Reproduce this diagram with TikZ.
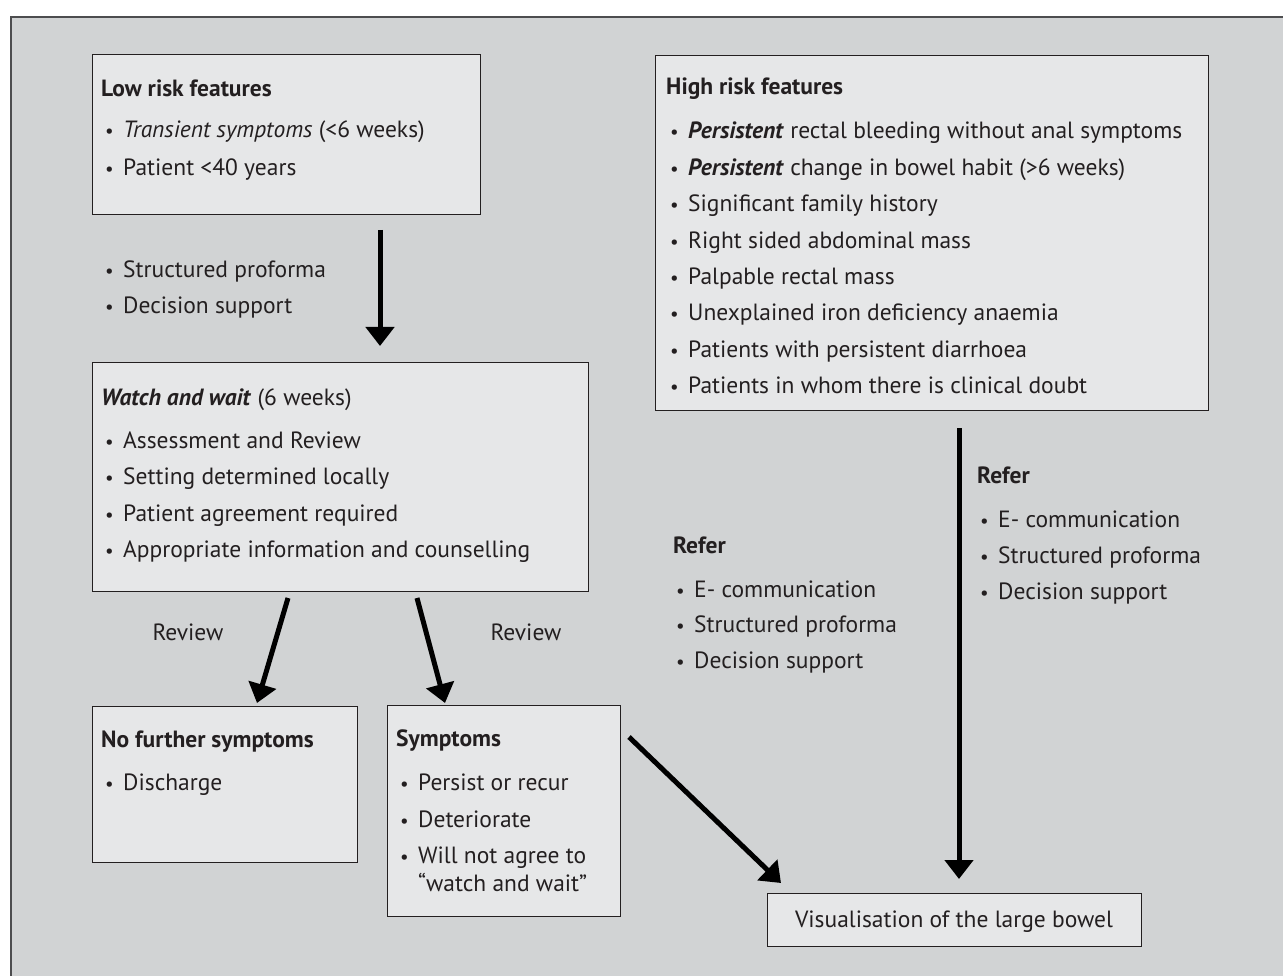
\documentclass[tikz,border=0pt]{standalone}
\usepackage{fontspec}
\setmainfont{PT Sans}
\usetikzlibrary{arrows.meta}
\definecolor{bgout}{HTML}{D1D3D4}
\definecolor{boxfill}{HTML}{E6E7E8}
\definecolor{ink}{HTML}{231F20}
\definecolor{frameline}{HTML}{4D4D4F}
\newcommand\bulletitem[4]{%
  \node[bull] (#1b) at (#2,#3) {•};
  \node[txt] (#1) at (#2+18,#3) {#4};}
\begin{document}
\begin{tikzpicture}[x=1pt,y=-1pt,
  txt/.style={anchor=base west,inner sep=0pt,font=\fontsize{23.5}{28}\selectfont,text=ink},
  hdr/.style={txt,font=\fontsize{23.5}{28}\selectfont\bfseries},
  bull/.style={anchor=base west,inner sep=0pt,font=\fontsize{19}{22}\selectfont,text=ink},
  ctxt/.style={anchor=base,inner sep=0pt,font=\fontsize{23.5}{28}\selectfont,text=ink},
  box/.style={draw=ink,fill=boxfill,line width=1.3pt,anchor=north west,inner sep=0pt},
  arr/.style={line width=5pt,draw=black,-{Triangle[width=28pt,length=19pt]}}]
\useasboundingbox (0,0) rectangle (1283,976);
% outer frame
\fill[white] (0,0) rectangle (1283,976);
\draw[frameline,fill=bgout,line width=2.2pt] (11,17) rectangle (1300,1000);

% boxes
\node[box,minimum width=388pt,minimum height=160pt] (low) at (92,54) {};
\node[box,minimum width=553pt,minimum height=355pt] (high) at (655,55) {};
\node[box,minimum width=496pt,minimum height=229pt] (watch) at (92,362) {};
\node[box,minimum width=265pt,minimum height=156pt] (nofurther) at (92,706) {};
\node[box,minimum width=233pt,minimum height=211pt] (sympt) at (387,705) {};
\node[box,minimum width=374pt,minimum height=53pt] (vis) at (767,893) {};
\node[ctxt] (vist) at (954,927) {Visualisation of the large bowel};

% low risk
\node[hdr] (lowh) at (101,97) {Low risk features};
\bulletitem{low1}{105}{138}{\textit{Transient symptoms} (<6 weeks)}
\bulletitem{low2}{105}{176}{Patient <40 years}

% free bullets left
\bulletitem{sp1}{105}{278}{Structured proforma}
\bulletitem{ds1}{105}{314}{Decision support}

% watch and wait
\node[txt] (watchh) at (101,406) {\textbf{\textit{Watch and wait}} (6 weeks)};
\bulletitem{w1}{105}{448}{Assessment and Review}
\bulletitem{w2}{105}{484}{Setting determined locally}
\bulletitem{w3}{105}{521}{Patient agreement required}
\bulletitem{w4}{105}{557}{Appropriate information and counselling}

% high risk
\node[hdr] (highh) at (666,95) {High risk features};
\bulletitem{h1}{670}{139}{\textbf{\textit{Persistent}} rectal bleeding without anal symptoms}
\bulletitem{h2}{670}{175.4}{\textbf{\textit{Persistent}} change in bowel habit (>6 weeks)}
\bulletitem{h3}{670}{211.8}{Significant family history}
\bulletitem{h4}{670}{248.2}{Right sided abdominal mass}
\bulletitem{h5}{670}{284.6}{Palpable rectal mass}
\bulletitem{h6}{670}{321}{Unexplained iron deficiency anaemia}
\bulletitem{h7}{670}{357.4}{Patients with persistent diarrhoea}
\bulletitem{h8}{670}{393.8}{Patients in whom there is clinical doubt}

% review labels
\node[ctxt] (rev1) at (188,640) {Review};
\node[ctxt] (rev2) at (526,640) {Review};

% no further symptoms
\node[hdr] (nfh) at (101,747) {No further symptoms};
\bulletitem{nf1}{105}{790}{Discharge}

% symptoms
\node[hdr] (sh) at (396,746) {Symptoms};
\bulletitem{s1}{400}{790}{Persist or recur}
\bulletitem{s2}{400}{827}{Deteriorate}
\bulletitem{s3}{400}{863}{Will not agree to}
\node[txt] (s4) at (418,891) {“watch and wait”};

% middle refer
\node[hdr] (ref1) at (673,553) {Refer};
\bulletitem{r1a}{676}{597}{E- communication}
\bulletitem{r1b}{676}{632}{Structured proforma}
\bulletitem{r1c}{676}{668}{Decision support}

% right refer
\node[hdr] (ref2) at (977,483) {Refer};
\bulletitem{r2a}{980}{527}{E- communication}
\bulletitem{r2b}{980}{563}{Structured proforma}
\bulletitem{r2c}{980}{599}{Decision support}

% arrows
\coordinate (a1s) at (380,230); \coordinate (a1e) at (380,346);
\coordinate (a2s) at (288,598); \coordinate (a2e) at (257,703);
\coordinate (a3s) at (417,598); \coordinate (a3e) at (445,703);
\coordinate (a4s) at (629,737); \coordinate (a4e) at (781,883);
\coordinate (a5s) at (959,428); \coordinate (a5e) at (959,879);
\draw[arr] (a1s) -- (a1e);
\draw[arr] (a2s) -- (a2e);
\draw[arr] (a3s) -- (a3e);
\draw[arr] (a4s) -- (a4e);
\draw[arr] (a5s) -- (a5e);
\end{tikzpicture}
\end{document}
